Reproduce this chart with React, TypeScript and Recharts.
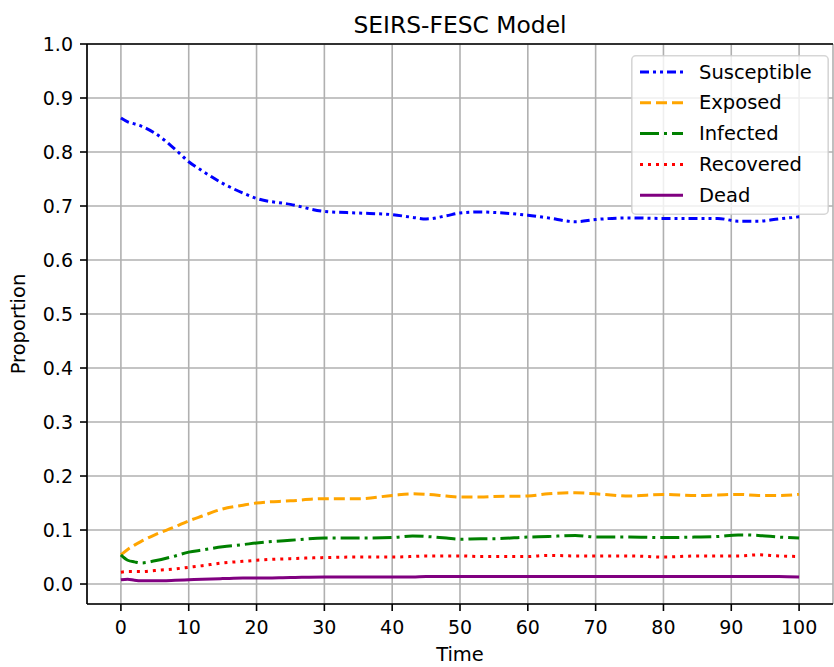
import React from 'react';
import {
  LineChart, Line, XAxis, YAxis, CartesianGrid, ReferenceLine, Legend
} from 'recharts';

// values
const TIME        = [0, 1, 2, 3, 5, 8, 10, 12, 15, 18, 20, 25, 30, 35, 40, 43, 45, 48, 50, 53, 55, 60, 63, 67, 70, 75, 80, 85, 88, 91, 94, 97, 100];
const SUSCEPTIBLE = [0.863, 0.856, 0.852, 0.848, 0.835, 0.805, 0.782, 0.765, 0.742, 0.724, 0.714, 0.703, 0.690, 0.687, 0.684, 0.679, 0.676, 0.682, 0.687, 0.689, 0.688, 0.683, 0.678, 0.671, 0.675, 0.678, 0.677, 0.677, 0.677, 0.672, 0.672, 0.676, 0.680];
const EXPOSED     = [0.054, 0.064, 0.072, 0.079, 0.091, 0.106, 0.117, 0.126, 0.139, 0.146, 0.150, 0.154, 0.158, 0.158, 0.164, 0.167, 0.166, 0.163, 0.161, 0.161, 0.162, 0.163, 0.167, 0.169, 0.167, 0.163, 0.166, 0.164, 0.165, 0.166, 0.164, 0.164, 0.166];
const INFECTED    = [0.054, 0.044, 0.041, 0.039, 0.043, 0.052, 0.059, 0.063, 0.069, 0.073, 0.076, 0.081, 0.085, 0.085, 0.086, 0.089, 0.088, 0.085, 0.083, 0.084, 0.084, 0.087, 0.088, 0.090, 0.087, 0.087, 0.086, 0.087, 0.088, 0.091, 0.090, 0.087, 0.085];
const RECOVERED   = [0.022, 0.023, 0.023, 0.023, 0.025, 0.028, 0.031, 0.034, 0.039, 0.042, 0.044, 0.047, 0.049, 0.050, 0.050, 0.051, 0.052, 0.052, 0.052, 0.051, 0.051, 0.051, 0.053, 0.052, 0.052, 0.052, 0.050, 0.052, 0.052, 0.052, 0.054, 0.052, 0.051];
const DEAD        = [0.008, 0.009, 0.007, 0.006, 0.006, 0.007, 0.008, 0.009, 0.010, 0.011, 0.011, 0.012, 0.013, 0.013, 0.013, 0.013, 0.014, 0.014, 0.014, 0.014, 0.014, 0.014, 0.014, 0.014, 0.014, 0.014, 0.014, 0.014, 0.014, 0.014, 0.014, 0.014, 0.013];

const X_TICKS = [0, 10, 20, 30, 40, 50, 60, 70, 80, 90, 100];
const Y_TICKS = [0, 0.1, 0.2, 0.3, 0.4, 0.5, 0.6, 0.7, 0.8, 0.9, 1.0];

const SERIES = [
  { key: 'susceptible', name: 'Susceptible', color: '#0000ff', dash: '9 4 3 4 3 4' },
  { key: 'exposed',     name: 'Exposed',     color: '#ffa500', dash: '11 5' },
  { key: 'infected',    name: 'Infected',    color: '#008000', dash: '19 5 3 5' },
  { key: 'recovered',   name: 'Recovered',   color: '#ff0000', dash: '3 5' },
  { key: 'dead',        name: 'Dead',        color: '#800080', dash: undefined },
];

const data = TIME.map((t, i) => ({
  t,
  susceptible: SUSCEPTIBLE[i],
  exposed:     EXPOSED[i],
  infected:    INFECTED[i],
  recovered:   RECOVERED[i],
  dead:        DEAD[i],
}));

const FONT = '"DejaVu Sans", sans-serif';
const tickStyle = { fontSize: 19, fill: '#000', fontFamily: FONT };

function LegendBox() {
  return (
    <svg width={198} height={160} style={{ display: 'block' }}>
      <rect x={0.8} y={0.8} width={196.4} height={158.4} rx={4}
        fill="rgba(255,255,255,0.8)" stroke="rgba(204,204,204,0.8)" strokeWidth={1.6} />
      {SERIES.map((s, i) => {
        const cy = 17 + i * 30.8;
        return (
          <g key={s.key}>
            <line x1={9} x2={52} y1={cy} y2={cy} stroke={s.color} strokeWidth={3}
              strokeDasharray={s.dash} />
            <text x={68} y={cy} dominantBaseline="central" fontSize={19.5}
              fontFamily={FONT} fill="#000">{s.name}</text>
          </g>
        );
      })}
    </svg>
  );
}

export default function App() {
  return (
    <div style={{ position: 'relative', width: 834, height: 667, background: '#fff' }}>
      <style>{'body{margin:0}'}</style>
      <LineChart width={834} height={667} data={data}
        margin={{ top: 44, right: 1, bottom: 0, left: 0 }}>
        <CartesianGrid stroke="#b0b0b0" strokeWidth={1.6} />
        <XAxis dataKey="t" type="number" domain={[-5, 105]} ticks={X_TICKS}
          allowDataOverflow height={63} tick={tickStyle}
          tickSize={7} tickMargin={10}
          axisLine={{ stroke: '#000', strokeWidth: 1.6 }}
          tickLine={{ stroke: '#000', strokeWidth: 1.6 }} />
        <YAxis type="number" domain={[-0.037, 1]} ticks={Y_TICKS}
          allowDataOverflow width={87} tick={tickStyle}
          tickFormatter={(v: number) => v.toFixed(1)}
          tickSize={7} tickMargin={7}
          axisLine={{ stroke: '#000', strokeWidth: 1.6 }}
          tickLine={{ stroke: '#000', strokeWidth: 1.6 }} />
        <ReferenceLine y={1} stroke="#000" strokeWidth={1.6} />
        {SERIES.map(s => (
          <Line key={s.key} dataKey={s.key} name={s.name} type="monotone"
            stroke={s.color} strokeWidth={3} strokeDasharray={s.dash}
            dot={false} activeDot={false} isAnimationActive={false} />
        ))}
        <Legend layout="vertical" align="center" verticalAlign="middle"
          content={() => <LegendBox />}
          wrapperStyle={{ position: 'absolute', left: 631, top: 55, width: 198, height: 160 }} />
      </LineChart>
      <svg width={834} height={667}
        style={{ position: 'absolute', left: 0, top: 0, pointerEvents: 'none' }}>
        <text x={460} y={33} textAnchor="middle" fontSize={23.4} fontFamily={FONT} fill="#000">
          SEIRS-FESC Model
        </text>
        <text x={460} y={661} textAnchor="middle" fontSize={19.5} fontFamily={FONT} fill="#000">
          Time
        </text>
        <text x={0} y={0} transform="translate(25,324) rotate(-90)" textAnchor="middle"
          fontSize={19.5} fontFamily={FONT} fill="#000">
          Proportion
        </text>
      </svg>
    </div>
  );
}
